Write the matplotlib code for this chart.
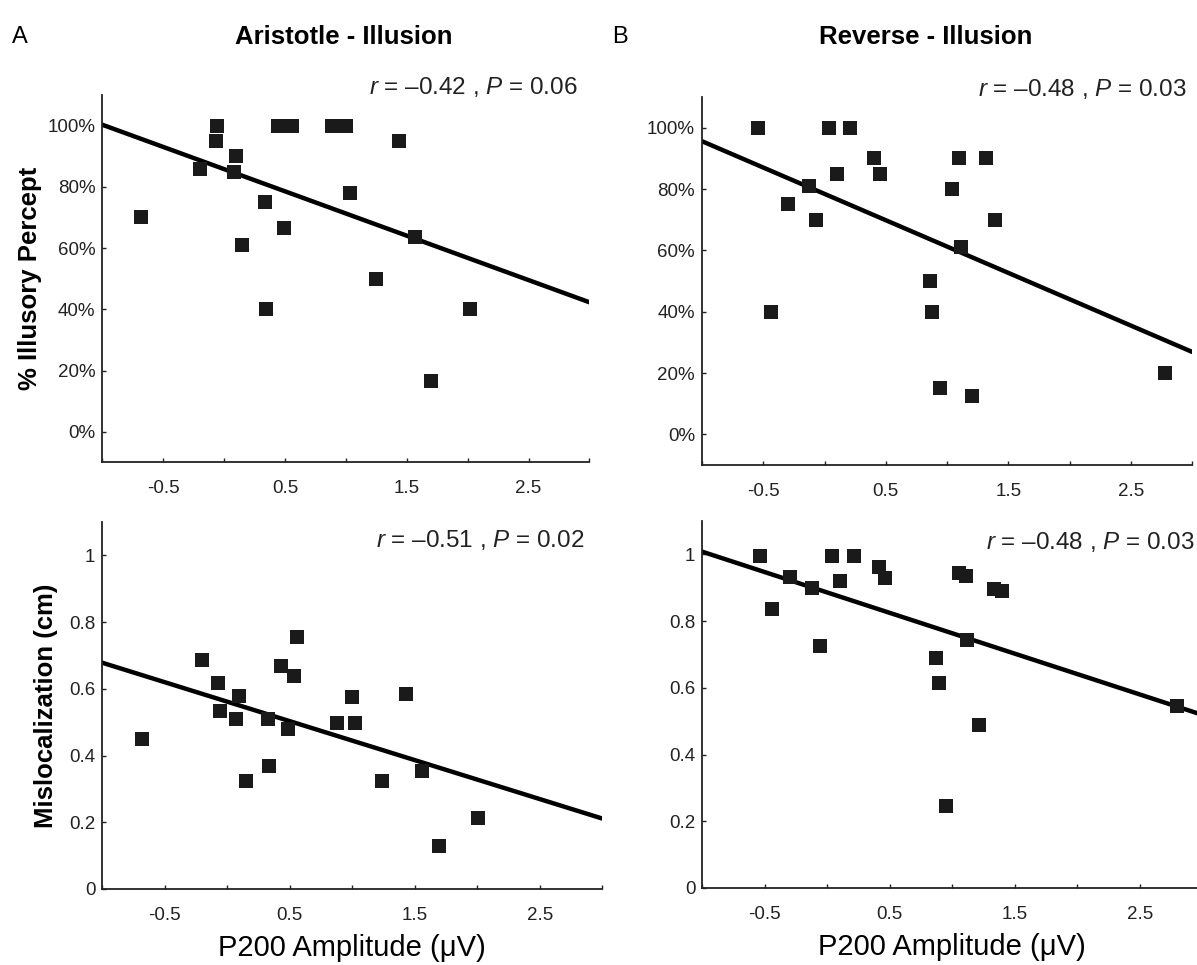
import numpy as np
import matplotlib
matplotlib.use("Agg")
import matplotlib.pyplot as plt

plt.rcParams['font.family'] = ['Liberation Sans', 'DejaVu Sans']
plt.rcParams['mathtext.fontset'] = 'custom'
plt.rcParams['mathtext.rm'] = 'Liberation Sans'
plt.rcParams['mathtext.it'] = 'Liberation Sans:italic'

# === DATA ===
# A, top: Aristotle illusion, % illusory percept
a_top_x = [-0.68, -0.20, -0.06, -0.07, 0.10, 0.08, 0.335, 0.49, 0.15, 0.34, 0.44,
           0.53, 0.56, 0.89, 1.00, 1.44, 1.03, 1.57, 1.25, 2.02, 1.70]
a_top_y = [70, 86, 100, 95, 90, 85, 75, 66.7, 61, 40, 100,
           100, 100, 100, 100, 95, 78, 63.5, 50, 40, 16.7]
a_top_fit = [100.3, 42.3]          # fit line value at x=-1 and x=3
a_top_stat = ("0.42", "0.06")

# A, bottom: Aristotle illusion, mislocalization (cm)
a_bot_x = [-0.683, -0.201, -0.073, -0.061, 0.094, 0.07, 0.329, 0.332, 0.146, 0.433, 0.53,
           0.558, 0.488, 0.878, 1.024, 1.0, 1.433, 1.24, 1.558, 1.695, 2.009]
a_bot_y = [0.448, 0.686, 0.617, 0.533, 0.577, 0.508, 0.509, 0.368, 0.324, 0.669, 0.637,
           0.755, 0.479, 0.498, 0.498, 0.576, 0.583, 0.323, 0.353, 0.13, 0.213]
a_bot_fit = [0.678, 0.211]
a_bot_stat = ("0.51", "0.02")

# B, top: Reverse illusion, % illusory percept
b_top_x = [-0.54, -0.44, -0.30, -0.13, -0.07, 0.04, 0.10, 0.21, 0.40, 0.45,
           0.86, 0.88, 0.94, 1.04, 1.10, 1.11, 1.20, 1.32, 1.39, 2.78]
b_top_y = [100, 40, 75, 81, 70, 100, 85, 100, 90, 85,
           50, 40, 15, 80, 90, 61, 12.5, 90, 70, 20]
b_top_fit = [95.6, 26.9]
b_top_stat = ("0.48", "0.03")

# B, bottom: Reverse illusion, mislocalization (cm)
b_bot_x = [-0.54, -0.44, -0.30, -0.12, -0.06, 0.04, 0.10, 0.21, 0.41, 0.46,
           0.87, 0.89, 0.95, 1.05, 1.11, 1.12, 1.21, 1.33, 1.40, 2.80]
b_bot_y = [0.996, 0.837, 0.932, 0.90, 0.725, 0.996, 0.92, 0.996, 0.961, 0.93,
           0.688, 0.613, 0.247, 0.945, 0.935, 0.743, 0.488, 0.896, 0.891, 0.546]
b_bot_fit = [1.008, 0.519]
b_bot_stat = ("0.48", "0.03")

x_ticks = np.arange(-1, 3.01, 0.5)
x_labels = ["", "-0.5", "", "0.5", "", "1.5", "", "2.5", ""]
pct_ticks = [0, 20, 40, 60, 80, 100]
pct_labels = ["0%", "20%", "40%", "60%", "80%", "100%"]
cm_ticks = [0, 0.2, 0.4, 0.6, 0.8, 1.0]
cm_labels = ["0", "0.2", "0.4", "0.6", "0.8", "1"]

# === FIGURE ===
fig = plt.figure(figsize=(11.97, 9.65), dpi=100)

panels = [
    # position, x, y, fit, stat, percent?, stat text pos
    ([0.0855, 0.5209, 0.4069, 0.3806], a_top_x, a_top_y, a_top_fit, a_top_stat, True, (0.975, 1.022)),
    ([0.5865, 0.5181, 0.4094, 0.3813], b_top_x, b_top_y, b_top_fit, b_top_stat, True, (0.988, 1.022)),
    ([0.0855, 0.0788, 0.4177, 0.3803], a_bot_x, a_bot_y, a_bot_fit, a_bot_stat, False, (0.965, 0.951)),
    ([0.5867, 0.0798, 0.4177, 0.3803], b_bot_x, b_bot_y, b_bot_fit, b_bot_stat, False, (0.985, 0.943)),
]

axes = []
for pos, xs, ys, fit, stat, is_pct, tpos in panels:
    ax = fig.add_axes(pos)
    ax.plot(xs, ys, 's', color='#1a1a1a', markersize=10, markeredgewidth=0, zorder=3)
    ax.plot([-1, 3], fit, color='black', linewidth=3.2, solid_capstyle='round', zorder=2)
    ax.set_xlim(-1, 3)
    if is_pct:
        ax.set_ylim(-10, 110)
        ax.set_yticks(pct_ticks)
        ax.set_yticklabels(pct_labels)
    else:
        ax.set_ylim(0, 1.1)
        ax.set_yticks(cm_ticks)
        ax.set_yticklabels(cm_labels)
    ax.set_xticks(x_ticks)
    ax.set_xticklabels(x_labels)
    for s in ['top', 'right']:
        ax.spines[s].set_visible(False)
    for s in ['left', 'bottom']:
        ax.spines[s].set_linewidth(1.3)
        ax.spines[s].set_color('#222222')
    ax.tick_params(direction='in', length=3, width=1, colors='#222222',
                   labelsize=13.5, pad=5)
    ax.tick_params(axis='x', pad=13)
    label = "$r$ = \u2013" + stat[0] + " , $P$ = " + stat[1]
    ax.text(tpos[0], tpos[1], label, transform=ax.transAxes, ha='right',
            va='center', fontsize=17.5, color='#222222')
    axes.append(ax)

axes[0].set_ylabel("% Illusory Percept", fontsize=18.5, fontweight='bold', labelpad=4)
axes[2].set_ylabel("Mislocalization (cm)", fontsize=18.5, fontweight='bold', labelpad=8)
axes[2].set_xlabel("P200 Amplitude (\u03bcV)", fontsize=21, labelpad=7)
axes[3].set_xlabel("P200 Amplitude (\u03bcV)", fontsize=21, labelpad=7)

fig.text(0.010, 0.962, "A", fontsize=17, va='center', ha='left')
fig.text(0.287, 0.962, "Aristotle - Illusion", fontsize=18.5, fontweight='bold',
         va='center', ha='center')
fig.text(0.511, 0.962, "B", fontsize=17, va='center', ha='left')
fig.text(0.773, 0.962, "Reverse - Illusion", fontsize=18.5, fontweight='bold',
         va='center', ha='center')

fig.savefig("out.png", dpi=100)
